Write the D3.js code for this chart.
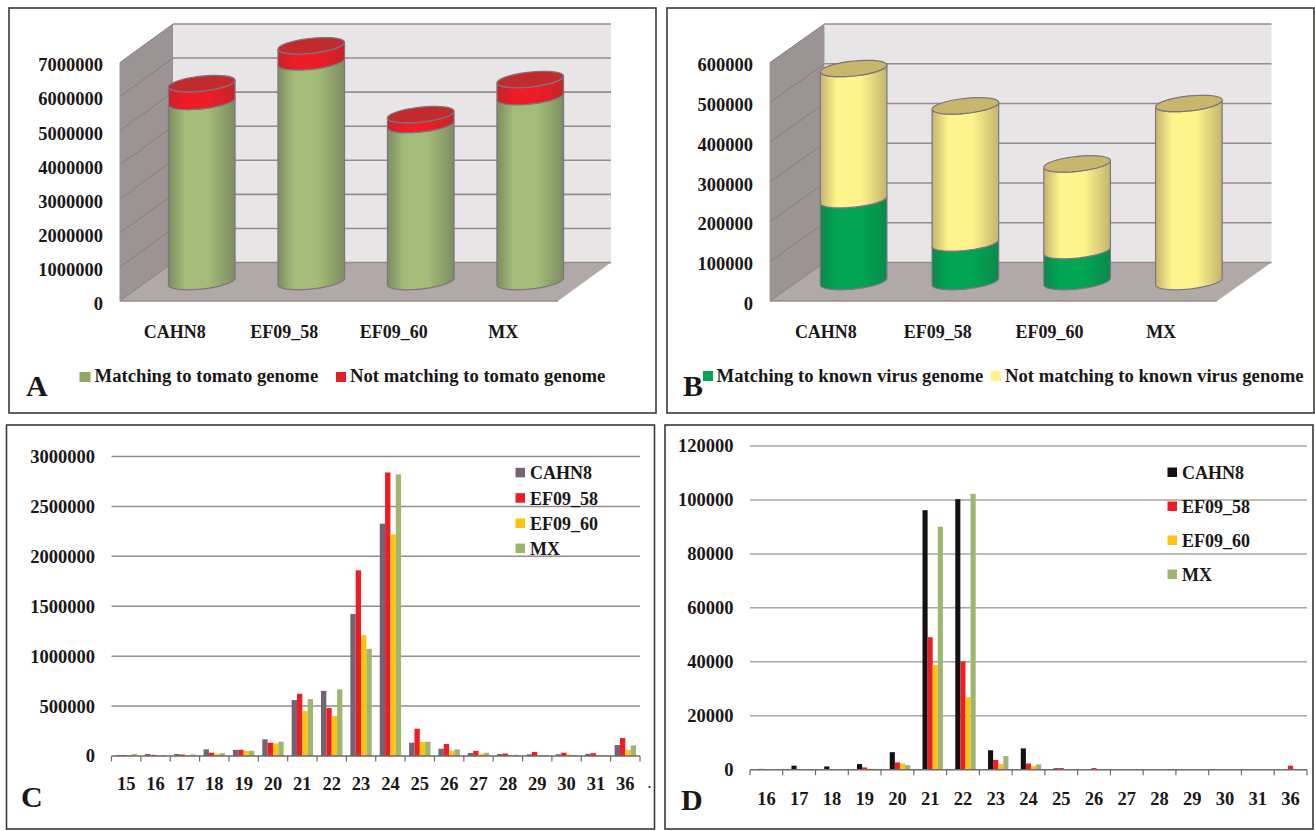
<!DOCTYPE html>
<html>
<head>
<meta charset="utf-8">
<script src="https://cdn.jsdelivr.net/npm/d3@7/dist/d3.min.js"></script>
<style>
html,body{margin:0;padding:0;background:#fff;}
svg{display:block;}
text{font-family:"Liberation Serif",serif;font-weight:bold;fill:#1a1718;}
</style>
</head>
<body>
<svg id="chart" width="1315" height="831"></svg>
<script>
// ---------- data ----------
const samples = ["CAHN8", "EF09_58", "EF09_60", "MX"];

const tomatoTicks = [0, 1000000, 2000000, 3000000, 4000000, 5000000, 6000000, 7000000];
const tomatoMatching = [5290000, 6450000, 4610000, 5430000];
const tomatoNotMatching = [520000, 470000, 290000, 500000];

const virusTicks = [0, 100000, 200000, 300000, 400000, 500000, 600000];
const virusMatching = [206000, 97000, 78000, 0];
const virusNotMatching = [330000, 345000, 218000, 448000];

const lengthsC = ["15","16","17","18","19","20","21","22","23","24","25","26","27","28","29","30","31","36"];
const ticksC = [0, 500000, 1000000, 1500000, 2000000, 2500000, 3000000];
const cCAHN8 = [10000,20000,20000,67000,62000,167000,560000,653000,1423000,2327000,133000,73000,30000,20000,17000,17000,22000,110000];
const cEF0958 = [10000,12000,15000,33000,62000,133000,623000,480000,1860000,2840000,273000,120000,52000,25000,40000,33000,28000,180000];
const cEF0960 = [10000,10000,10000,22000,50000,127000,453000,400000,1210000,2220000,140000,53000,22000,10000,10000,15000,10000,62000];
const cMX = [20000,9000,15000,28000,53000,143000,570000,667000,1073000,2820000,143000,67000,32000,12000,10000,10000,10000,107000];

const lengthsD = ["16","17","18","19","20","21","22","23","24","25","26","27","28","29","30","31","36"];
const ticksD = [0, 20000, 40000, 60000, 80000, 100000, 120000];
const dCAHN8 = [300,1500,1200,2100,6500,96200,100300,7200,7900,500,0,0,0,0,0,0,0];
const dEF0958 = [0,0,0,860,2700,49100,40100,3600,2300,600,600,200,0,0,0,0,1500];
const dEF0960 = [0,0,0,400,2350,38800,26900,2100,1400,100,0,0,0,0,0,0,0];
const dMX = [0,0,0,300,1700,90100,102300,5100,2000,100,0,0,0,0,0,0,0];

// ---------- colours ----------
const GRID = "#968b8b";
const svg = d3.select("#chart");
const defs = svg.append("defs");
function cylGradient(id, edge, mid) {
  const g = defs.append("linearGradient").attr("id", id).attr("x1", 0).attr("x2", 1).attr("y1", 0).attr("y2", 0);
  [[0, edge], [0.25, mid], [0.6, mid], [1, edge]].forEach(s => g.append("stop").attr("offset", s[0]).attr("stop-color", s[1]));
}
cylGradient("gGreen", "#7d8d62", "#a3bc78");
cylGradient("gRed", "#c5242a", "#ee1c25");
cylGradient("gYellow", "#c4b56e", "#fff48c");
cylGradient("gDark", "#0a8a4c", "#00a651");

function border(x, y, w, h) {
  svg.append("rect").attr("x", x).attr("y", y).attr("width", w).attr("height", h)
    .attr("fill", "#fff").attr("stroke", "#3b3838").attr("stroke-width", 1.6);
}
function bigLetter(t, x, y) {
  svg.append("text").attr("x", x).attr("y", y).attr("font-size", 30).text(t);
}
function swatch(x, y, w, h, c) {
  svg.append("rect").attr("x", x).attr("y", y).attr("width", w).attr("height", h).attr("fill", c);
}
function label(t, x, y, size) {
  svg.append("text").attr("x", x).attr("y", y).attr("font-size", size).text(t);
}
const serif = '"Liberation Serif",serif';

// ---------- 3D stacked cylinders ----------
function cylinderPanel(o) {
  const g = svg.append("g");
  const D = { x: o.depth, y: -38.5 };
  const x = d3.scaleBand().domain(samples).range([o.x0, o.x1]);
  const y = d3.scaleLinear().domain([0, o.max]).range([301, 62.5]);
  const [xl, xr] = [o.x0, o.x1];
  const poly = pts => g.append("polygon").attr("points", pts.map(p => p.join(",")).join(" "));

  poly([[xl + D.x, y(o.max) + D.y], [xr + D.x, y(o.max) + D.y], [xr + D.x, y(0) + D.y], [xl + D.x, y(0) + D.y]]).attr("fill", "#e8e5e7");
  poly([[xl, y(o.max)], [xl + D.x, y(o.max) + D.y], [xl + D.x, y(0) + D.y], [xl, y(0)]]).attr("fill", "#9c9494");
  poly([[xl, y(0)], [xl + D.x, y(0) + D.y], [xr + D.x, y(0) + D.y], [xr, y(0)]]).attr("fill", "#b1a8a8");

  g.selectAll("line.back").data(o.ticks).join("line").attr("class", "back")
    .attr("x1", xl + D.x).attr("x2", xr + D.x)
    .attr("y1", d => y(d) + D.y).attr("y2", d => y(d) + D.y)
    .attr("stroke", GRID).attr("stroke-width", 1.6);
  g.selectAll("line.side").data(o.ticks).join("line").attr("class", "side")
    .attr("x1", xl).attr("x2", xl + D.x)
    .attr("y1", d => y(d)).attr("y2", d => y(d) + D.y)
    .attr("stroke", "#867d7d").attr("stroke-width", 1);
  g.append("line").attr("x1", xl).attr("x2", xr).attr("y1", y(0)).attr("y2", y(0)).attr("stroke", GRID).attr("stroke-width", 1.6);
  g.append("line").attr("x1", xl).attr("x2", xl).attr("y1", y(o.max)).attr("y2", y(0)).attr("stroke", "#9c9494");

  const yAxis = g.append("g").attr("transform", `translate(${o.labelRight},2.5)`)
    .call(d3.axisLeft(y).tickValues(o.ticks).tickSize(0).tickPadding(0).tickFormat(d3.format("d")));
  yAxis.select(".domain").remove();
  yAxis.selectAll("text").style("font-size", "18.5px").style("font-family", serif);

  const xAxis = g.append("g").attr("transform", "translate(0,325)")
    .call(d3.axisBottom(x).tickSize(0).tickPadding(0));
  xAxis.select(".domain").remove();
  xAxis.selectAll("text").style("font-size", "18px").style("font-family", serif);

  // cylinders
  const rx = 33.3, ry = 7.5, k = 3.4, liftX = D.x / 2 + 0.5, liftY = D.y / 2 - 0.2;
  const ptAt = (cx, cy, t) => [cx + rx * Math.cos(t), cy + ry * Math.sin(t) - k * Math.cos(t)];
  const line = d3.line();
  const arcPts = (cx, cy, a, b) => d3.range(0, 41).map(i => ptAt(cx, cy, a + (b - a) * i / 40));

  samples.forEach((s, i) => {
    const cx = x(s) + x.bandwidth() / 2 + liftX;
    const lower = o.lower[i], upper = o.upper[i];
    const segs = [[0, lower, o.lowerFill], [lower, lower + upper, o.upperFill]];
    segs.forEach(([v0, v1, fill]) => {
      if (v1 <= v0) return;
      const b = y(v0) + liftY, t = y(v1) + liftY;
      const pts = arcPts(cx, b, Math.PI, 0).concat(arcPts(cx, t, 0, Math.PI));
      g.append("path").attr("d", line(pts) + "Z").attr("fill", `url(#${fill})`)
        .attr("stroke", "#7d7480").attr("stroke-width", 1.2);
    });
    const top = y(lower + upper) + liftY;
    g.append("path").attr("d", line(arcPts(cx, top, 0, Math.PI * 2)) + "Z")
      .attr("fill", o.topFill).attr("stroke", "#7d7480").attr("stroke-width", 1.2);
  });
}

// ---------- grouped bars ----------
function barPanel(o) {
  const g = svg.append("g");
  const x = d3.scaleBand().domain(o.cats).range([o.x0, o.x1]);
  const y = d3.scaleLinear().domain([0, o.max]).range([o.base, o.top]);
  const inner = d3.scaleBand().domain(d3.range(o.series.length)).range([0, o.barW * o.series.length]);

  g.selectAll("line.grid").data(o.ticks.filter(d => d > 0)).join("line").attr("class", "grid")
    .attr("x1", o.x0).attr("x2", o.x1)
    .attr("y1", d => y(d)).attr("y2", d => y(d))
    .attr("stroke", o.grid).attr("stroke-width", 1.5);

  o.series.forEach((vals, si) => {
    g.selectAll(null).data(vals.map((v, i) => ({ v, c: o.cats[i] })).filter(d => d.v > 0)).join("rect")
      .attr("x", d => x(d.c) + (x.bandwidth() - o.barW * o.series.length) / 2 + o.shift + inner(si))
      .attr("width", inner.bandwidth())
      .attr("y", d => y(d.v))
      .attr("height", d => y(0) - y(d.v))
      .attr("fill", o.colors[si]);
  });

  g.append("line").attr("x1", o.x0).attr("x2", o.x1).attr("y1", y(0)).attr("y2", y(0)).attr("stroke", "#6f6868").attr("stroke-width", 1.4);
  g.selectAll("line.tick").data(d3.range(o.cats.length + 1)).join("line").attr("class", "tick")
    .attr("x1", d => o.x0 + d * x.step()).attr("x2", d => o.x0 + d * x.step())
    .attr("y1", y(0)).attr("y2", y(0) + 5.5)
    .attr("stroke", "#6f6868").attr("stroke-width", 1.2);

  const yAxis = g.append("g").attr("transform", `translate(${o.labelRight},0)`)
    .call(d3.axisLeft(y).tickValues(o.ticks).tickSize(0).tickPadding(0).tickFormat(d3.format("d")));
  yAxis.select(".domain").remove();
  yAxis.selectAll("text").style("font-size", "18.5px").style("font-family", serif);

  const xAxis = g.append("g").attr("transform", `translate(0,${o.labelY})`)
    .call(d3.axisBottom(x).tickSize(0).tickPadding(0));
  xAxis.select(".domain").remove();
  xAxis.selectAll("text").style("font-size", "18.5px").style("font-family", serif);

  samples.forEach((s, i) => {
    swatch(o.legX, o.legY[i] - 11.5, 9.5, 9.5, o.colors[i]);
    label(s, o.legX + 14.5, o.legY[i], 18);
  });
}

// ---------- panel A ----------
border(9, 8, 647, 405);
cylinderPanel({ x0: 120, x1: 558, depth: 53, max: 7000000, ticks: tomatoTicks, labelRight: 103,
  lower: tomatoMatching, upper: tomatoNotMatching,
  lowerFill: "gGreen", upperFill: "gRed", topFill: "#c22b2e" });
swatch(79.5, 372, 11, 10, "#8fa868");
label("Matching to tomato genome", 94.5, 381.5, 18.7);
swatch(336, 372, 10, 10, "#e01f27");
label("Not matching to tomato genome", 350, 381.5, 18.7);
bigLetter("A", 26, 396);

// ---------- panel B ----------
border(667, 8, 647, 405);
cylinderPanel({ x0: 770, x1: 1217, depth: 54.5, max: 600000, ticks: virusTicks, labelRight: 753,
  lower: virusMatching, upper: virusNotMatching,
  lowerFill: "gDark", upperFill: "gYellow", topFill: "#c8b66c" });
swatch(703, 371, 10, 10, "#00a651");
label("Matching to known virus genome", 716.5, 381.5, 18.7);
swatch(991, 371, 10, 10, "#fff48c");
label("Not matching to known virus genome", 1005, 381.5, 18.7);
bigLetter("B", 683, 396);

// ---------- panel C ----------
border(6.5, 425, 648, 404);
barPanel({ cats: lengthsC, series: [cCAHN8, cEF0958, cEF0960, cMX], ticks: ticksC,
  colors: ["#736474", "#ee1c25", "#ffc20e", "#9fb670"], grid: GRID,
  x0: 111.5, x1: 640, base: 756, top: 456.5, max: 3000000, barW: 5.35, shift: 0,
  labelRight: 95, labelY: 777, legX: 515.5, legY: [479.3, 504.7, 530, 555] });
bigLetter("C", 21, 807);
svg.append("text").attr("x", 648).attr("y", 788).attr("font-size", 12).text(".");

// ---------- panel D ----------
border(665, 425, 648, 404);
barPanel({ cats: lengthsD, series: [dCAHN8, dEF0958, dEF0960, dMX], ticks: ticksD,
  colors: ["#151112", "#ee1c25", "#ffc20e", "#9fb670"], grid: "#aba4a4",
  x0: 750, x1: 1307, base: 769.7, top: 446, max: 120000, barW: 5.1, shift: 2.5,
  labelRight: 733.5, labelY: 792, legX: 1167.5, legY: [479, 513, 547, 581] });
bigLetter("D", 681, 810);
</script>
</body>
</html>
